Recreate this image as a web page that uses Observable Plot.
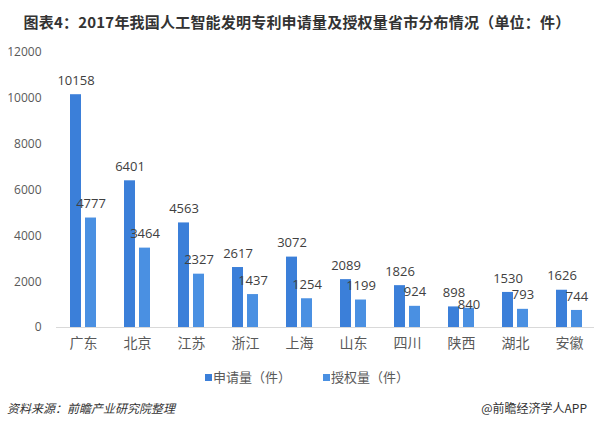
<!DOCTYPE html>
<html>
<head>
<meta charset="utf-8">
<script src="https://cdn.jsdelivr.net/npm/d3@7"></script>
<script src="https://cdn.jsdelivr.net/npm/@observablehq/plot@0.6"></script>
<style>
  html, body { margin: 0; padding: 0; background: #fff; }
  body { width: 594px; height: 427px; position: relative; overflow: hidden;
         font-family: "Noto Sans CJK SC", "Noto Sans", sans-serif; }
  #title { position: absolute; left: 0; top: 12px; width: 594px; text-align: center;
           font-size: 15px; font-weight: bold; color: #333; line-height: 20px; letter-spacing: 0.2px; }
  #chart { position: absolute; left: 0; top: 40px; }
  #legend { position: absolute; left: 10px; top: 368px; width: 594px; text-align: center;
            font-size: 13px; color: #595959; line-height: 18px; }
  #legend span.item { margin: 0 16px; }
  #legend span.sw { display: inline-block; width: 7px; height: 7px; margin-right: 1px; vertical-align: 1px; }
  #source { position: absolute; left: 7px; top: 399px; font-size: 12px; font-style: italic; color: #333; line-height: 18px; }
  #brand { position: absolute; right: 7px; top: 399px; font-size: 12px; color: #333; line-height: 18px; }
</style>
</head>
<body>
<div id="title">图表4：2017年我国人工智能发明专利申请量及授权量省市分布情况（单位：件）</div>
<div id="chart"></div>
<div id="legend"></div>
<div id="source">资料来源：前瞻产业研究院整理</div>
<div id="brand">@前瞻经济学人APP</div>
<script>
const provinces = ["广东","北京","江苏","浙江","上海","山东","四川","陕西","湖北","安徽"];
const applications = [10158, 6401, 4563, 2617, 3072, 2089, 1826, 898, 1530, 1626];
const grants = [4777, 3464, 2327, 1437, 1254, 1199, 924, 840, 793, 744];
const series = ["申请量（件）", "授权量（件）"];
const colors = ["#3b7fd9", "#4a90e2"];
const yTicks = [0, 2000, 4000, 6000, 8000, 10000, 12000];

const rows = [];
provinces.forEach((p, i) => {
  // a grant label is "crowded" when it would collide with the application label next to it
  const crowded = applications[i] - grants[i] < 600;
  rows.push({province: p, series: series[0], value: applications[i], crowded: false});
  rows.push({province: p, series: series[1], value: grants[i], crowded});
});

const numFont = '"Open Sans", "Noto Sans", sans-serif';

const chart = Plot.plot({
  width: 594,
  height: 327,
  marginTop: 12,
  marginBottom: 40,
  marginLeft: 52,
  marginRight: -6,
  style: {fontFamily: numFont, fontSize: "12px", color: "#595959", background: "transparent"},
  facet: {data: rows, x: "province"},
  fx: {domain: provinces, padding: 0, axis: null, label: null},
  x: {domain: series, axis: null, paddingInner: 0.25, paddingOuter: 0.839},
  y: {domain: [0, 12000], ticks: yTicks, tickSize: 0, tickPadding: 15, label: null, tickFormat: d => String(d)},
  color: {domain: series, range: colors},
  marks: [
    Plot.ruleY([0], {stroke: "#d9d9d9", strokeWidth: 1}),
    Plot.barY(rows, {x: "series", y: "value", fill: "series"}),
    Plot.text(rows, {filter: d => !d.crowded, x: "series", y: "value", text: d => String(d.value), dy: -14, fill: "#404040", fontSize: 13, fontFamily: numFont}),
    Plot.text(rows, {filter: d => d.crowded, x: "series", y: "value", text: d => String(d.value), dy: -3, fill: "#404040", fontSize: 13, fontFamily: numFont}),
    Plot.text(rows, {filter: d => d.series === series[0], text: "province", frameAnchor: "bottom", dy: 20, fill: "#595959", fontSize: 14, fontFamily: '"Noto Sans CJK SC", sans-serif'})
  ]
});
document.getElementById("chart").appendChild(chart);

const legend = document.getElementById("legend");
series.forEach((s, i) => {
  const item = document.createElement("span");
  item.className = "item";
  const sw = document.createElement("span");
  sw.className = "sw";
  sw.style.background = colors[i];
  item.appendChild(sw);
  item.appendChild(document.createTextNode(s));
  legend.appendChild(item);
});
</script>
</body>
</html>
